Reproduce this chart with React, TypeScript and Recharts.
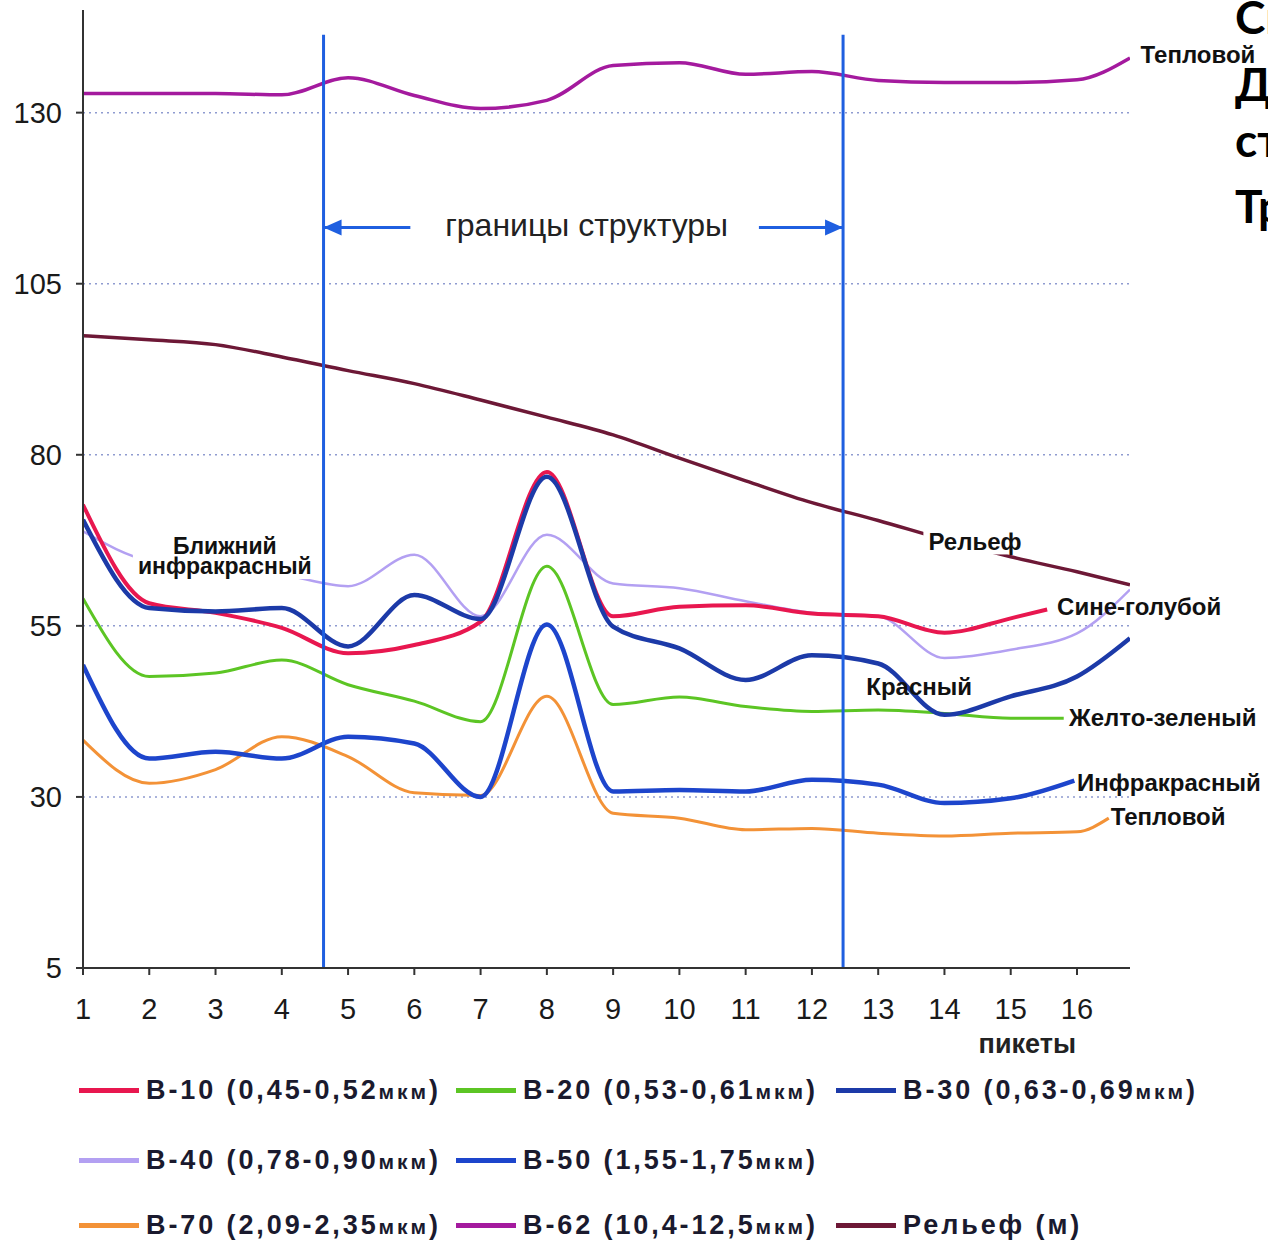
import React from "react";
import {
  LineChart,
  Line,
  XAxis,
  YAxis,
  CartesianGrid,
  ReferenceLine,
  ReferenceDot,
} from "recharts";

// пикеты 1..16; each series also has its own end point
const pickets = [1, 2, 3, 4, 5, 6, 7, 8, 9, 10, 11, 12, 13, 14, 15, 16];
const yTicks = [5, 30, 55, 80, 105, 130];
const gridValues = [30, 55, 80, 105, 130];

const b10 = [72.7, 58.3, 56.9, 54.7, 51.0, 52.2, 55.6, 77.5, 56.4, 57.8, 58.0, 56.8, 56.4, 54.0, 56.1];
const b10End = [15.55, 57.4];
const b20 = [59.0, 47.6, 48.1, 50.0, 46.4, 44.0, 41.0, 63.7, 43.5, 44.6, 43.2, 42.5, 42.7, 42.2, 41.5];
const b20End = [15.8, 41.5];
const b30 = [70.5, 57.6, 57.1, 57.6, 52.0, 59.5, 56.0, 76.8, 54.9, 51.7, 47.1, 50.7, 49.5, 42.0, 44.7, 47.6];
const b30End = [16.8, 53.2];
const b40 = [68.8, 64.5, 63.5, 62.5, 60.8, 65.4, 56.4, 68.3, 61.2, 60.5, 58.6, 56.9, 56.4, 50.3, 51.5, 53.9];
const b40End = [16.8, 60.3];
const b50 = [49.3, 35.6, 36.6, 35.6, 38.8, 37.8, 30.0, 55.2, 30.8, 31.0, 30.8, 32.5, 31.8, 29.1, 29.8];
const b50End = [15.96, 32.4];
const b70 = [38.3, 32.0, 34.0, 38.8, 35.9, 30.6, 30.2, 44.7, 27.6, 26.9, 25.2, 25.4, 24.7, 24.3, 24.7, 24.9];
const b70End = [16.48, 26.9];
const b62 = [132.8, 132.8, 132.8, 132.6, 135.1, 132.5, 130.6, 131.8, 136.9, 137.3, 135.6, 136.0, 134.7, 134.4, 134.4, 134.8];
const b62End = [16.8, 138.0];
const relief = [97.4, 96.8, 96.1, 94.3, 92.3, 90.4, 88.0, 85.5, 82.9, 79.5, 76.2, 73.0, 70.4, 67.6, 65.1, 62.9];
const reliefEnd = [16.8, 61.0];

// structure borders
const borders = [4.63, 12.47];

const toPoints = (vals: number[], end: number[]) => [
  ...vals.map((v, i) => ({ x: pickets[i], v })),
  { x: end[0], v: end[1] },
];

type Series = {
  key: string;
  name: string;
  unit: string;
  color: string;
  width: number;
  data: { x: number; v: number }[];
};

const series: Series[] = [
  { key: "b62", name: "B-62 (10,4-12,5", unit: "мкм", color: "#a41a9e", width: 3.5, data: toPoints(b62, b62End) },
  { key: "rel", name: "Рельеф (м", unit: "", color: "#6d1836", width: 3.5, data: toPoints(relief, reliefEnd) },
  { key: "b70", name: "B-70 (2,09-2,35", unit: "мкм", color: "#f39237", width: 3, data: toPoints(b70, b70End) },
  { key: "b20", name: "B-20 (0,53-0,61", unit: "мкм", color: "#5cc524", width: 3, data: toPoints(b20, b20End) },
  { key: "b40", name: "B-40 (0,78-0,90", unit: "мкм", color: "#b3a0f2", width: 2.5, data: toPoints(b40, b40End) },
  { key: "b10", name: "B-10 (0,45-0,52", unit: "мкм", color: "#e8174f", width: 4, data: toPoints(b10, b10End) },
  { key: "b50", name: "B-50 (1,55-1,75", unit: "мкм", color: "#1d45cc", width: 4.5, data: toPoints(b50, b50End) },
  { key: "b30", name: "B-30 (0,63-0,69", unit: "мкм", color: "#1c3aa8", width: 4.5, data: toPoints(b30, b30End) },
];

const legendRows = [
  ["b10", "b20", "b30"],
  ["b40", "b50"],
  ["b70", "b62", "rel"],
];

type Note = {
  x: number;
  y: number;
  lines: string[];
  anchor: "start" | "middle";
  size: number;
  weight: number;
  bg?: boolean;
  fill?: string;
};

const notes: Note[] = [
  { x: 3.14, y: 65.2, lines: ["Ближний", "инфракрасный"], anchor: "middle", size: 23, weight: 700, bg: true },
  { x: 14.46, y: 67.4, lines: ["Рельеф"], anchor: "middle", size: 24, weight: 700, bg: true },
  { x: 15.7, y: 57.9, lines: ["Сине-голубой"], anchor: "start", size: 24, weight: 700 },
  { x: 12.82, y: 46.2, lines: ["Красный"], anchor: "start", size: 24, weight: 700 },
  { x: 15.88, y: 41.7, lines: ["Желто-зеленый"], anchor: "start", size: 24, weight: 700 },
  { x: 16.0, y: 32.2, lines: ["Инфракрасный"], anchor: "start", size: 24, weight: 700 },
  { x: 16.51, y: 27.1, lines: ["Тепловой"], anchor: "start", size: 24, weight: 700 },
  { x: 16.96, y: 138.5, lines: ["Тепловой"], anchor: "start", size: 24, weight: 700 },
  { x: 8.6, y: 113.6, lines: ["границы структуры"], anchor: "middle", size: 32, weight: 400, fill: "#222" },
  { x: 15.25, y: -6, lines: ["пикеты"], anchor: "middle", size: 27, weight: 700, fill: "#222" },
];

const FONT = '"Liberation Sans", Arial, sans-serif';

let ctx: CanvasRenderingContext2D | null = null;
const measure = (text: string, font: string, size: number) => {
  if (!ctx) ctx = document.createElement("canvas").getContext("2d");
  if (!ctx) return text.length * size * 0.6;
  ctx.font = font;
  return ctx.measureText(text).width;
};

const NoteShape = ({ cx, cy, note }: { cx: number; cy: number; note: Note }) => {
  const lh = note.size * 0.87;
  const font = `${note.weight} ${note.size}px ${FONT}`;
  const w = Math.max(...note.lines.map((l) => measure(l, font, note.size)));
  const h = lh * note.lines.length;
  const top = cy - h / 2;
  const left = note.anchor === "middle" ? cx - w / 2 : cx;
  return (
    <g>
      {note.bg && <rect x={left - 5} y={top - 3} width={w + 10} height={h + 6} fill="#fff" />}
      {note.lines.map((l, i) => (
        <text
          key={i}
          x={cx}
          y={top + lh * (i + 0.5)}
          dy="0.36em"
          textAnchor={note.anchor}
          fontFamily={FONT}
          fontSize={note.size}
          fontWeight={note.weight}
          fill={note.fill || "#111"}
        >
          {l}
        </text>
      ))}
    </g>
  );
};

const arrow = (dir: "left" | "right") => (p: any) => {
  const { x1, y1, x2 } = p;
  const lo = Math.min(x1, x2);
  const hi = Math.max(x1, x2);
  const tip = dir === "left" ? lo : hi;
  const base = dir === "left" ? tip + 18 : tip - 18;
  return (
    <g>
      <line x1={lo} y1={y1} x2={hi} y2={y1} stroke="#1f5fe0" strokeWidth={3} />
      <polygon points={`${tip},${y1} ${base},${y1 - 8} ${base},${y1 + 8}`} fill="#1f5fe0" />
    </g>
  );
};

const LegendBlock = () => {
  const byKey: Record<string, Series> = {};
  series.forEach((s) => (byKey[s.key] = s));
  const rowTops = [1072, 1142, 1207];
  const colLefts = [79, 456, 836];
  return (
    <>
      {legendRows.map((row, r) =>
        row.map((k, c) => {
          const s = byKey[k];
          return (
            <div
              key={k}
              style={{
                position: "absolute",
                top: rowTops[r],
                left: colLefts[c],
                height: 36,
                display: "flex",
                alignItems: "center",
                whiteSpace: "nowrap",
              }}
            >
              <div style={{ width: 60, height: 5, background: s.color, marginRight: 7 }} />
              <span
                style={{
                  fontFamily: FONT,
                  fontSize: 27,
                  fontWeight: 700,
                  letterSpacing: 2.9,
                  color: "#1a1a2e",
                }}
              >
                {s.name}
                {s.unit && <span style={{ fontSize: 21 }}>{s.unit}</span>})
              </span>
            </div>
          );
        })
      )}
    </>
  );
};

export default function App() {
  return (
    <div
      style={{
        position: "absolute",
        left: 0,
        top: 0,
        width: 1268,
        height: 1245,
        overflow: "hidden",
        background: "#fff",
      }}
    >
      <LineChart
        width={1268}
        height={1060}
        margin={{ top: 10, right: 138, bottom: 52, left: 0 }}
      >
        <CartesianGrid
          horizontal
          vertical={false}
          horizontalValues={gridValues}
          stroke="#8f9bd0"
          strokeDasharray="2 4"
          strokeWidth={1.5}
        />
        <XAxis
          type="number"
          dataKey="x"
          domain={[1, 16.8]}
          ticks={pickets}
          allowDataOverflow
          height={40}
          stroke="#333"
          strokeWidth={2}
          tickSize={7}
          tickMargin={23}
          tick={{ fontFamily: FONT, fontSize: 29, fill: "#1a1a1a" }}
        />
        <YAxis
          type="number"
          domain={[5, 145]}
          ticks={yTicks}
          width={83}
          stroke="#333"
          strokeWidth={2}
          tickSize={7}
          tickMargin={14}
          tick={{ fontFamily: FONT, fontSize: 29, fill: "#1a1a1a" }}
        />
        {series.map((s) => (
          <Line
            key={s.key}
            data={s.data}
            dataKey="v"
            type="monotone"
            stroke={s.color}
            strokeWidth={s.width}
            dot={false}
            activeDot={false}
            isAnimationActive={false}
          />
        ))}
        {borders.map((b) => (
          <ReferenceLine
            key={b}
            segment={[
              { x: b, y: 5 },
              { x: b, y: 141.4 },
            ]}
            stroke="#1f5fe0"
            strokeWidth={3}
            ifOverflow="visible"
          />
        ))}
        <ReferenceLine
          segment={[
            { x: 4.63, y: 113.2 },
            { x: 5.94, y: 113.2 },
          ]}
          ifOverflow="visible"
          shape={arrow("left")}
        />
        <ReferenceLine
          segment={[
            { x: 11.2, y: 113.2 },
            { x: 12.47, y: 113.2 },
          ]}
          ifOverflow="visible"
          shape={arrow("right")}
        />
        {notes.map((n, i) => (
          <ReferenceDot
            key={i}
            x={n.x}
            y={n.y}
            r={0}
            ifOverflow="visible"
            shape={(p: any) => <NoteShape cx={p.cx} cy={p.cy} note={n} />}
          />
        ))}
      </LineChart>
      <LegendBlock />
      <svg
        width={1268}
        height={260}
        style={{ position: "absolute", left: 0, top: 0, pointerEvents: "none" }}
      >
        {[
          ["Сп", 34],
          ["Д", 101],
          ["ст", 157],
          ["Тр", 223],
        ].map(([t, y]) => (
          <text
            key={t as string}
            x={1235}
            y={y as number}
            fontFamily="Lato, 'Open Sans', sans-serif"
            fontWeight={700}
            fontSize={46}
            fill="#000"
          >
            {t}
          </text>
        ))}
      </svg>
    </div>
  );
}
